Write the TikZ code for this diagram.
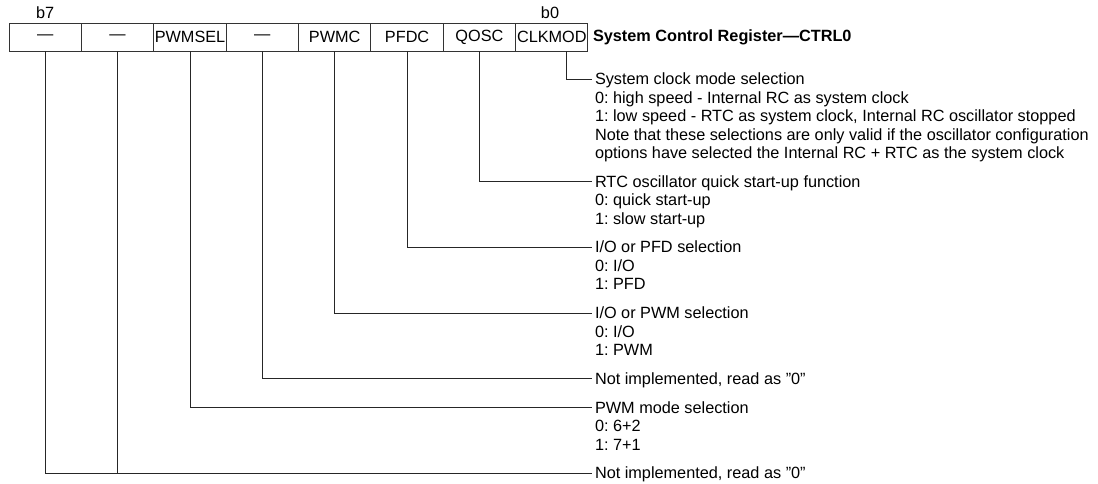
\documentclass[tikz,border=0pt]{standalone}
\usepackage{fontspec}
\setmainfont{Liberation Sans}[Ligatures=ResetAll]
\begin{document}
\frenchspacing
\begin{tikzpicture}[x=0.75pt,y=-0.75pt,
  every node/.style={font=\fontsize{12.2}{14}\selectfont\frenchspacing, inner sep=0pt, outer sep=0pt},
  cell/.style={draw=black!80, line width=0.75pt, minimum width=54.28pt, minimum height=21pt},
  conn/.style={draw=black!85, line width=0.75pt},
  desc/.style={anchor=base west},
  bitlbl/.style={anchor=base}]
\useasboundingbox (0,0) rectangle (1098,483);
\newcommand{\descline}[3]{\node[desc] (#1) at (595,#2+5.5) {#3};}
% bit labels
\node[bitlbl] (b7) at (45.2,18.5) {b7};
\node[bitlbl] (b0) at (550,18.5) {b0};
% register cells
\node[cell] (c7) at (45.2,37) {—};
\node[cell] (c6) at (117.6,37) {—};
\node[cell] (c5) at (190.0,37) {PWMSEL};
\node[cell] (c4) at (262.3,37) {—};
\node[cell] (c3) at (334.7,37) {PWMC};
\node[cell] (c2) at (407.1,37) {PFDC};
\node[cell] (c1) at (479.4,37) {QOSC};
\node[cell] (c0) at (551.8,37) {CLKMOD};
\node[anchor=west] (title) at (593,37) {\bfseries System Control Register—CTRL0};
% end points of connectors
\coordinate (e0) at (592,79);
\coordinate (e1) at (592,181.7);
\coordinate (e2) at (592,247.4);
\coordinate (e3) at (592,313.1);
\coordinate (e4) at (592,378.8);
\coordinate (e5) at (592,407.5);
\coordinate (e7) at (592,473.2);
% descriptions
\descline{d0a}{79}{System clock mode selection}
\descline{d0b}{97.5}{0: high speed - Internal RC as system clock}
\descline{d0c}{116}{1: low speed - RTC as system clock, Internal RC oscillator stopped}
\descline{d0d}{134.5}{Note that these selections are only valid if the oscillator configuration}
\descline{d0e}{153}{options have selected the Internal RC + RTC as the system clock}
\descline{d1a}{181.7}{RTC oscillator quick start-up function}
\descline{d1b}{200.2}{0: quick start-up}
\descline{d1c}{218.7}{1: slow start-up}
\descline{d2a}{247.4}{I/O or PFD selection}
\descline{d2b}{265.9}{0: I/O}
\descline{d2c}{284.4}{1: PFD}
\descline{d3a}{313.1}{I/O or PWM selection}
\descline{d3b}{331.6}{0: I/O}
\descline{d3c}{350.1}{1: PWM}
\descline{d4a}{378.8}{Not implemented, read as "0"}
\descline{d5a}{407.5}{PWM mode selection}
\descline{d5b}{426}{0: 6+2}
\descline{d5c}{444.5}{1: 7+1}
\descline{d7a}{473.2}{Not implemented, read as "0"}
% connectors
\draw[conn] ([xshift=10.65pt]c0.south) |- (e0);
\draw[conn] (c1.south) |- (e1);
\draw[conn] (c2.south) |- (e2);
\draw[conn] (c3.south) |- (e3);
\draw[conn] (c4.south) |- (e4);
\draw[conn] (c5.south) |- (e5);
\draw[conn] (c7.south) |- (e7);
\draw[conn] (c6.south) -- (c6.south |- e7);
\end{tikzpicture}
\end{document}
